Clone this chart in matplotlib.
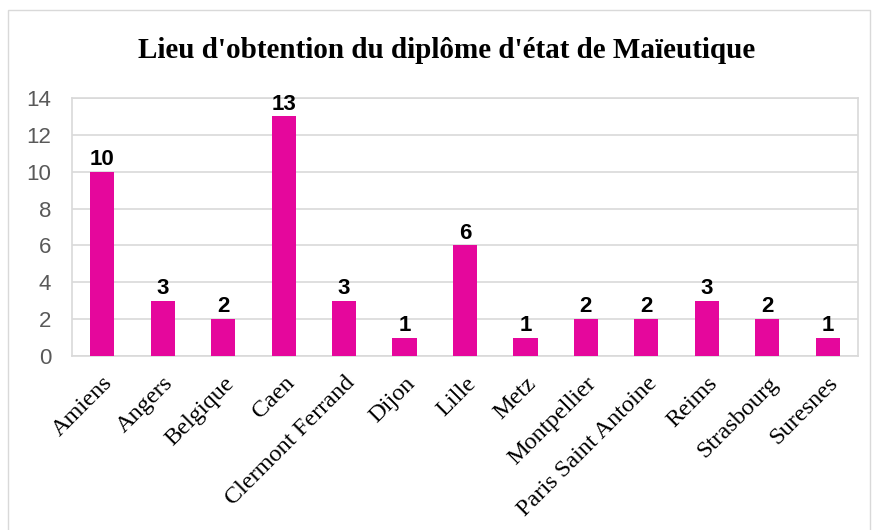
import matplotlib
matplotlib.use("Agg")
import matplotlib.pyplot as plt
from matplotlib.patches import Rectangle

categories = ["Amiens", "Angers", "Belgique", "Caen", "Clermont Ferrand", "Dijon", "Lille",
              "Metz", "Montpellier", "Paris Saint Antoine", "Reims", "Strasbourg", "Suresnes"]
values = [10, 3, 2, 13, 3, 1, 6, 1, 2, 2, 3, 2, 1]
yticks = [0, 2, 4, 6, 8, 10, 12, 14]
title = "Lieu d'obtention du diplôme d'état de Maïeutique"

W, H = 872, 530
fig = plt.figure(figsize=(W/100, H/100), dpi=100)
ax = fig.add_axes([72/W, 1-356/H, (858-72)/W, (356-98)/H])

x = list(range(len(categories)))
ax.bar(x, values, width=0.4, color="#E5079C", zorder=3)
ax.set_xlim(-0.5, len(categories)-0.5)
ax.set_ylim(0, 14)
ax.set_yticks(yticks)
ax.set_yticklabels([str(t) for t in yticks], fontfamily="Liberation Sans", fontsize=16, color="#595959")
ax.set_xticks(x)
ax.set_xticklabels(categories, rotation=45, ha="right", va="top", rotation_mode="anchor",
                   fontfamily="Liberation Serif", fontsize=17.5, color="black")
ax.tick_params(axis="x", length=0, pad=12)
ax.tick_params(axis="y", length=0, pad=15)
ax.grid(axis="y", color="#D9D9D9", linewidth=1.2, zorder=0)
for s in ax.spines.values():
    s.set_color("#D9D9D9")
    s.set_linewidth(1.2)

for xi, v in zip(x, values):
    ax.text(xi, v + 0.1, str(v), ha="center", va="bottom", fontfamily="Liberation Sans",
            fontweight="bold", fontsize=16, color="black", zorder=4)

fig.text(447/W, 1-50/H, title, ha="center", va="center", fontfamily="Liberation Serif",
         fontweight="bold", fontsize=21, color="black")

fig.patches.append(Rectangle((8/W, -0.01), (870-8)/W, 1-10/H+0.01, transform=fig.transFigure,
                             fill=False, edgecolor="#D9D9D9", linewidth=1.0))

fig.savefig("out.png", dpi=100, facecolor="white")
